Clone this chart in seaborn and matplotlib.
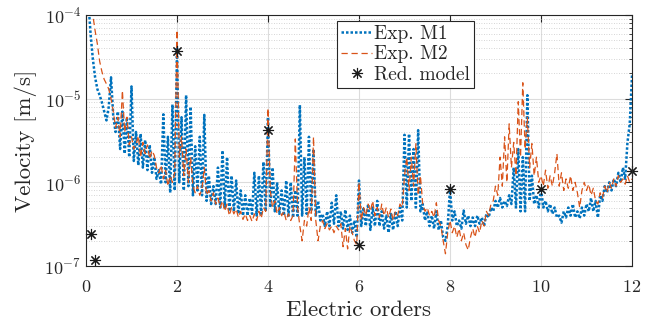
import numpy as np
import pandas as pd
import matplotlib
matplotlib.use("Agg")
import matplotlib.pyplot as plt
import seaborn as sns
from matplotlib.ticker import LogLocator, NullFormatter, FixedLocator

# ---------------- data (velocities in um/s, converted to m/s) ----------------
m1_um = [
    300, 150, 60, 30, 18, 13, 11, 9, 7, 5.5, 8, 18, 6, 4, 7, 2.5, 7, 2.2, 6, 2.0,
    14, 1.8, 4, 1.6, 3.8, 1.5, 3.2, 1.4, 2.8, 1.3, 2.0, 1.1, 1.4, 0.95, 6.5, 1.0, 3.5, 0.75, 8.5, 0.8,
    40, 1.0, 6, 0.8, 11, 0.9, 8, 0.7, 2.7, 0.8, 3.5, 0.7, 6.4, 0.6, 1.2, 0.55, 0.9, 0.55, 1.5, 0.5,
    2.4, 0.5, 2.0, 0.45, 1.2, 0.45, 1.05, 0.42, 0.8, 0.4, 0.7, 0.4, 0.65, 0.42, 1.3, 0.4, 1.2, 0.42, 1.75, 0.45,
    6.0, 0.5, 1.5, 0.45, 1.0, 0.42, 0.8, 0.4, 1.05, 0.4, 1.0, 0.38, 0.8, 0.4, 8.4, 0.4, 2.0, 0.42, 3.5, 0.45,
    2.5, 0.4, 0.6, 0.35, 0.42, 0.3, 0.45, 0.3, 0.57, 0.32, 0.7, 0.3, 0.45, 0.28, 0.47, 0.27, 0.4, 0.25, 0.35, 0.22,
    1.05, 0.3, 0.5, 0.3, 0.55, 0.27, 0.5, 0.3, 0.6, 0.3, 0.45, 0.28, 0.4, 0.25, 0.42, 0.27, 0.45, 0.3, 0.5, 0.35,
    3.7, 0.5, 3.8, 0.6, 2.5, 0.5, 4.2, 0.45, 0.55, 0.35, 0.45, 0.3, 0.4, 0.28, 0.45, 0.27, 0.35, 0.22, 0.2, 0.3,
    0.85, 0.35, 0.45, 0.3, 0.35, 0.28, 0.46, 0.32, 0.4, 0.3, 0.38, 0.3, 0.4, 0.32, 0.38, 0.3, 0.42, 0.38, 0.5, 0.45,
    0.6, 0.5, 0.65, 0.5, 0.6, 0.52, 0.7, 0.55, 1.5, 0.5, 2.5, 0.45, 2.0, 0.45, 11, 0.6, 1.2, 0.55, 0.7, 0.5,
    0.85, 0.5, 0.6, 0.45, 0.55, 0.42, 0.5, 0.38, 0.4, 0.33, 0.45, 0.38, 0.5, 0.4, 0.55, 0.38, 0.45, 0.37, 0.5, 0.4,
    0.55, 0.45, 0.65, 0.45, 0.6, 0.38, 0.7, 0.6, 0.9, 0.75, 1.0, 0.8, 1.1, 0.9, 1.3, 1.0, 1.5, 1.1, 3.0, 5.0,
    19,
]
m2_um = [
    1000, 500, 200, 100, 65, 45, 28, 21, 17, 15, 13, 10, 7, 4.5, 6, 3.5, 12.5, 4, 6, 2.8,
    3.5, 2.5, 2.8, 3.6, 2.0, 3.0, 2.2, 2.8, 1.9, 2.4, 2.1, 1.5, 1.3, 1.6, 1.1, 1.4, 0.9, 1.2, 1.0, 1.3,
    66, 2.0, 3.5, 1.2, 2.5, 1.0, 2.0, 0.9, 0.75, 0.9, 0.7, 0.85, 1.5, 0.7, 0.8, 0.6, 0.75, 0.55, 0.65, 0.5,
    0.6, 0.45, 0.55, 0.4, 0.5, 0.42, 0.48, 0.38, 0.45, 0.36, 0.42, 0.35, 0.4, 0.34, 0.42, 0.35, 0.45, 0.37, 0.5, 0.45,
    7.7, 0.8, 0.5, 0.6, 0.42, 0.5, 0.4, 0.45, 0.35, 0.42, 0.35, 0.4, 3.3, 0.5, 0.3, 0.2, 0.35, 0.3, 0.5, 0.35,
    3.5, 0.35, 0.2, 0.3, 0.35, 0.28, 0.32, 0.27, 0.3, 0.25, 0.3, 0.27, 0.32, 0.17, 0.28, 0.16, 0.3, 0.25, 0.2, 0.18,
    1.0, 0.35, 0.5, 0.4, 0.55, 0.45, 0.6, 0.4, 0.5, 0.38, 0.55, 0.4, 0.5, 0.38, 0.48, 0.35, 0.45, 0.4, 0.55, 0.5,
    1.2, 2.0, 0.8, 2.0, 0.9, 2.9, 0.7, 1.2, 0.55, 0.45, 0.5, 0.4, 0.45, 0.38, 0.57, 0.35, 0.3, 0.2, 0.14, 0.25,
    0.35, 0.25, 0.3, 0.22, 0.28, 0.2, 0.25, 0.18, 0.155, 0.22, 0.28, 0.22, 0.3, 0.25, 0.35, 0.3, 0.45, 0.4, 0.55, 0.6,
    0.9, 0.7, 2.0, 0.9, 3.5, 1.0, 5.0, 1.5, 3.0, 1.2, 9.2, 2.0, 15.5, 2.5, 6.0, 1.5, 2.9, 1.2, 2.0, 1.0,
    1.2, 0.9, 1.4, 0.85, 1.2, 0.9, 1.3, 2.2, 0.9, 1.3, 0.8, 1.1, 0.85, 1.2, 0.8, 1.0, 0.75, 0.5, 0.8, 1.0,
    0.8, 0.95, 0.7, 0.85, 0.6, 0.55, 0.75, 0.65, 0.9, 0.75, 1.0, 0.85, 1.1, 0.9, 1.2, 1.0, 1.1, 0.95, 1.2, 1.0,
    1.1,
]
orders = np.linspace(0, 12, len(m1_um))

red_orders = [0.1, 0.2, 2, 4, 6, 8, 10, 12]
red_vel = [2.4e-7, 1.19e-7, 3.7e-5, 4.2e-6, 1.78e-7, 8.3e-7, 8.3e-7, 1.38e-6]

xticks = [0, 2, 4, 6, 8, 10, 12]
labels = ["Exp. M1", "Exp. M2", "Red. model"]

df = pd.DataFrame({"order": orders,
                   "m1": np.array(m1_um) * 1e-6,
                   "m2": np.array(m2_um) * 1e-6})
red = pd.DataFrame({"order": red_orders, "vel": red_vel})

# ---------------- style ----------------
sns.set_theme(style="white")
plt.rcParams.update({
    "font.family": ["cmr10", "DejaVu Serif"],
    "mathtext.fontset": "cm",
    "axes.formatter.use_mathtext": True,
    "axes.unicode_minus": False,
})

fig = plt.figure(figsize=(6.53, 3.21), dpi=100)
ax = fig.add_axes([86 / 653, 55 / 321, 546 / 653, 251 / 321])

blue = "#0072BD"
orange = "#D95319"

sns.lineplot(data=df, x="order", y="m1", ax=ax, color=blue, lw=1.8,
             linestyle=(0, (1, 0.8)), estimator=None, sort=False, label=labels[0])
sns.lineplot(data=df, x="order", y="m2", ax=ax, color=orange, lw=0.9,
             linestyle=(0, (5, 3)), estimator=None, sort=False, label=labels[1])
sns.lineplot(data=red, x="order", y="vel", ax=ax, color="k", linestyle="none",
             marker=(8, 2, 0), markersize=8, markeredgewidth=0.8,
             markeredgecolor="k", markerfacecolor="k",
             estimator=None, sort=False, label=labels[2], clip_on=False)

ax.set_yscale("log")
ax.set_xlim(0, 12)
ax.set_ylim(1e-7, 1e-4)
ax.xaxis.set_major_locator(FixedLocator(xticks))
ax.yaxis.set_major_locator(LogLocator(base=10, numticks=10))
ax.yaxis.set_minor_locator(LogLocator(base=10, subs=np.arange(2, 10), numticks=20))
ax.yaxis.set_minor_formatter(NullFormatter())

ax.grid(True, which="major", axis="both", color="#dcdcdc", lw=0.8, ls="-")
ax.grid(True, which="minor", axis="y", color="#c8c8c8", lw=0.6, ls=(0, (1, 2)))
ax.set_axisbelow(True)

for s in ax.spines.values():
    s.set_color("#262626")
    s.set_linewidth(0.8)
    s.set_visible(True)
ax.tick_params(which="both", direction="in", top=True, right=True,
               colors="#262626", labelsize=13)
ax.tick_params(which="major", length=5, width=0.8)
ax.tick_params(which="minor", length=2.5, width=0.6)
ax.tick_params(axis="x", which="major", pad=9)

ax.set_xlabel("Electric orders", fontsize=16.5, color="#262626", labelpad=4)
ax.set_ylabel("Velocity [m/s]", fontsize=16.5, color="#262626", labelpad=5)

leg = ax.legend(loc="upper left", bbox_to_anchor=(0.46, 0.975), fontsize=14,
                frameon=True, fancybox=False, framealpha=1, edgecolor="#262626",
                borderpad=0.2, labelspacing=0.12, handlelength=1.6,
                handletextpad=0.1, borderaxespad=0)
leg.get_frame().set_linewidth(0.8)

fig.savefig("out.png", dpi=100)
